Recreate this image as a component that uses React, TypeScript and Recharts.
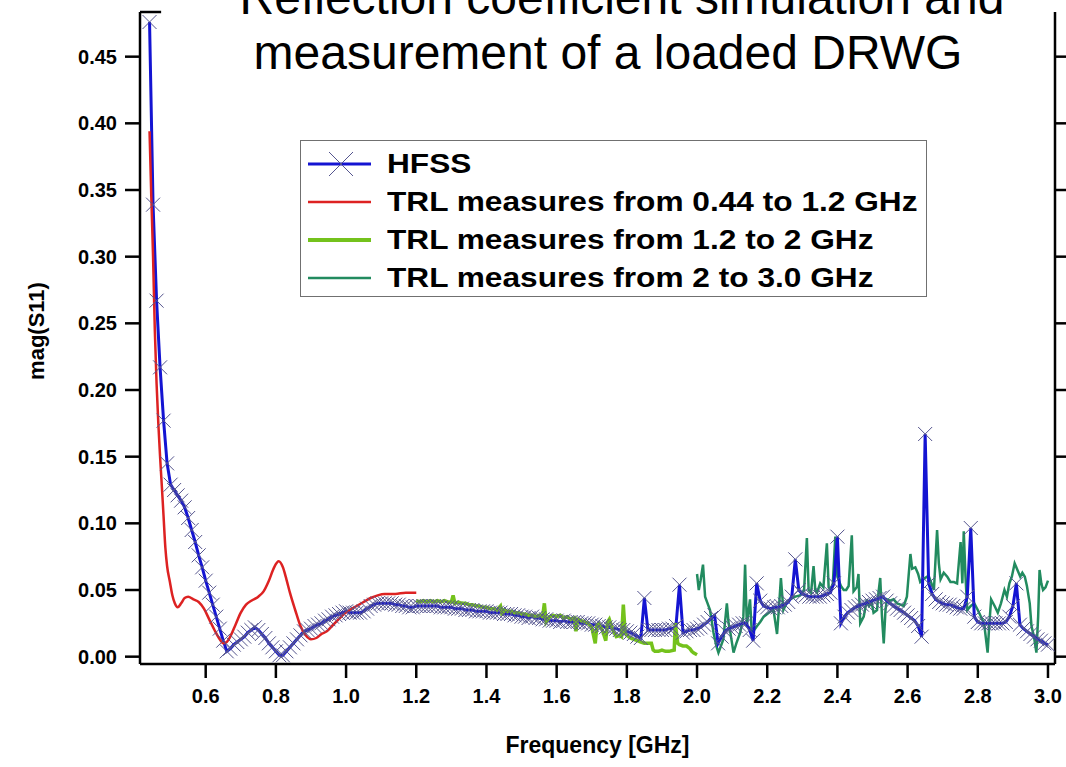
import { LineChart, Line, XAxis, YAxis, Legend, Label, ReferenceLine } from "recharts";

const FONT = '"Liberation Sans", Arial, sans-serif';

const BLUE = "#1414d2";
const MARK = "#55558e";
const RED = "#dd2222";
const LIME = "#74c21c";
const TEAL = "#228b5f";

// HFSS simulation, sampled every 0.01 GHz from 0.44 GHz
const hfssStart = 0.44;
const hfssStep = 0.01;
const hfssValues = [
  0.476, 0.339, 0.267, 0.217, 0.177, 0.145,
  0.129, 0.125, 0.121, 0.117, 0.112, 0.104, 0.095, 0.086, 0.076, 0.067,
  0.057, 0.048, 0.039, 0.030, 0.021, 0.012, 0.004, 0.006, 0.009, 0.011,
  0.013, 0.015, 0.018, 0.020, 0.022, 0.020, 0.017, 0.014, 0.010, 0.007,
  0.004, 0.001, 0.001, 0.004, 0.007, 0.010, 0.013, 0.016, 0.019, 0.020,
  0.021, 0.023, 0.024, 0.025, 0.027, 0.028, 0.030, 0.031, 0.032, 0.033,
  0.034, 0.033, 0.033, 0.033, 0.033, 0.034, 0.036, 0.038, 0.039, 0.040,
  0.040, 0.040, 0.040, 0.040, 0.039, 0.039, 0.038, 0.038, 0.037, 0.037,
  0.038, 0.038, 0.038, 0.038, 0.038, 0.038, 0.038, 0.037, 0.037, 0.037,
  0.037, 0.036, 0.036, 0.036, 0.035, 0.035, 0.035, 0.034, 0.034, 0.034,
  0.034, 0.033, 0.033, 0.033, 0.033, 0.032, 0.032, 0.032, 0.031, 0.031,
  0.030, 0.030, 0.029, 0.030, 0.029, 0.029, 0.028, 0.028, 0.027, 0.027,
  0.027, 0.026, 0.027, 0.026, 0.026, 0.026, 0.026, 0.025, 0.025, 0.025,
  0.024, 0.024, 0.023, 0.023, 0.022, 0.022, 0.021, 0.021, 0.020, 0.020,
  0.019, 0.018, 0.017, 0.015, 0.014, 0.044, 0.020, 0.020, 0.020, 0.020,
  0.020, 0.020, 0.021, 0.021, 0.023, 0.054, 0.018, 0.019, 0.020, 0.020,
  0.021, 0.022, 0.024, 0.026, 0.029, 0.031, 0.010, 0.015, 0.019, 0.021,
  0.022, 0.023, 0.024, 0.025, 0.025, 0.020, 0.012, 0.055, 0.042, 0.038,
  0.037, 0.036, 0.037, 0.037, 0.038, 0.039, 0.041, 0.045, 0.073, 0.050,
  0.047, 0.046, 0.045, 0.045, 0.045, 0.045, 0.046, 0.047, 0.048, 0.055,
  0.090, 0.025, 0.030, 0.033, 0.035, 0.037, 0.038, 0.039, 0.040, 0.041,
  0.042, 0.043, 0.044, 0.045, 0.042, 0.040, 0.038, 0.036, 0.035, 0.033,
  0.031, 0.029, 0.027, 0.023, 0.015, 0.167, 0.055, 0.047, 0.043, 0.041,
  0.040, 0.039, 0.039, 0.038, 0.037, 0.036, 0.036, 0.045, 0.0965, 0.030,
  0.026, 0.025, 0.025, 0.025, 0.025, 0.025, 0.025, 0.025, 0.026, 0.030,
  0.038, 0.055, 0.024, 0.021, 0.019, 0.017, 0.015, 0.013, 0.012, 0.010,
  0.009,
];

// TRL measures 0.44 - 1.2 GHz  [GHz, mag]
const trlLow: [number, number][] = [
  [0.44, 0.394], [0.445, 0.345], [0.45, 0.3], [0.455, 0.245], [0.46, 0.205],
  [0.465, 0.175], [0.47, 0.15], [0.475, 0.128], [0.48, 0.105], [0.485, 0.082],
  [0.49, 0.068], [0.498, 0.056], [0.505, 0.046], [0.512, 0.04], [0.52, 0.037],
  [0.53, 0.04], [0.54, 0.044], [0.55, 0.045], [0.565, 0.043], [0.58, 0.041],
  [0.595, 0.036], [0.61, 0.028], [0.625, 0.02], [0.64, 0.013], [0.65, 0.01],
  [0.66, 0.011], [0.67, 0.015], [0.685, 0.024], [0.7, 0.033], [0.715, 0.039],
  [0.73, 0.042], [0.75, 0.045], [0.765, 0.049], [0.78, 0.057], [0.795, 0.067],
  [0.808, 0.0715], [0.82, 0.067], [0.83, 0.058], [0.84, 0.048], [0.855, 0.035],
  [0.87, 0.023], [0.885, 0.016], [0.9, 0.013], [0.915, 0.014], [0.93, 0.017],
  [0.945, 0.019], [0.96, 0.023], [0.975, 0.027], [0.99, 0.031], [1.01, 0.035],
  [1.03, 0.038], [1.05, 0.041], [1.07, 0.044], [1.09, 0.046], [1.11, 0.047],
  [1.14, 0.047], [1.17, 0.048], [1.2, 0.048],
];

// TRL measures 1.2 - 2 GHz
const trlMid: [number, number][] = [
  [1.2, 0.042], [1.21, 0.041], [1.22, 0.042], [1.23, 0.041], [1.24, 0.042],
  [1.25, 0.041], [1.26, 0.042], [1.27, 0.041], [1.28, 0.042], [1.29, 0.041],
  [1.3, 0.041], [1.305, 0.046], [1.31, 0.04], [1.32, 0.041], [1.33, 0.04],
  [1.34, 0.04], [1.35, 0.039], [1.36, 0.039], [1.37, 0.038], [1.38, 0.038],
  [1.39, 0.037], [1.4, 0.037], [1.41, 0.036], [1.42, 0.036], [1.43, 0.035],
  [1.44, 0.038], [1.445, 0.031], [1.45, 0.035], [1.46, 0.034], [1.47, 0.034],
  [1.48, 0.033], [1.49, 0.033], [1.5, 0.032], [1.51, 0.032], [1.52, 0.031],
  [1.53, 0.031], [1.54, 0.03], [1.55, 0.031], [1.56, 0.03], [1.565, 0.04],
  [1.57, 0.026], [1.58, 0.03], [1.59, 0.031], [1.6, 0.03], [1.61, 0.031],
  [1.62, 0.029], [1.63, 0.03], [1.64, 0.028], [1.65, 0.029], [1.655, 0.019],
  [1.66, 0.028], [1.67, 0.027], [1.68, 0.026], [1.69, 0.025], [1.7, 0.022],
  [1.71, 0.01], [1.715, 0.024], [1.72, 0.025], [1.73, 0.02], [1.74, 0.012],
  [1.745, 0.026], [1.75, 0.028], [1.76, 0.02], [1.77, 0.015], [1.78, 0.016],
  [1.785, 0.015], [1.79, 0.039], [1.795, 0.018], [1.8, 0.016], [1.81, 0.014],
  [1.82, 0.013], [1.83, 0.012], [1.84, 0.011], [1.85, 0.01], [1.86, 0.01],
  [1.87, 0.01], [1.875, 0.005], [1.88, 0.004], [1.89, 0.004], [1.9, 0.005],
  [1.91, 0.004], [1.92, 0.004], [1.935, 0.005], [1.938, 0.025], [1.945, 0.01],
  [1.95, 0.009], [1.96, 0.008], [1.97, 0.008], [1.98, 0.006], [1.985, 0.004],
  [1.99, 0.003], [2.0, 0.0015],
];

// TRL measures 2 - 3 GHz
const trlHigh: [number, number][] = [
  [2.0, 0.062], [2.005, 0.05], [2.01, 0.057], [2.017, 0.069], [2.023, 0.045],
  [2.03, 0.04], [2.037, 0.035], [2.047, 0.018], [2.055, 0.008], [2.061, 0.003],
  [2.068, 0.008], [2.075, 0.013], [2.085, 0.04], [2.09, 0.025], [2.095, 0.018],
  [2.104, 0.003], [2.112, 0.01], [2.123, 0.018], [2.132, 0.03], [2.137, 0.069],
  [2.142, 0.023], [2.147, 0.035], [2.151, 0.043], [2.156, 0.018], [2.163, 0.02],
  [2.171, 0.023], [2.18, 0.026], [2.19, 0.03], [2.2, 0.032], [2.21, 0.034],
  [2.218, 0.035], [2.228, 0.017], [2.233, 0.035], [2.239, 0.059], [2.246, 0.035],
  [2.255, 0.04], [2.265, 0.043], [2.28, 0.045], [2.294, 0.046], [2.305, 0.05],
  [2.313, 0.089], [2.318, 0.05], [2.325, 0.048], [2.332, 0.068], [2.337, 0.05],
  [2.342, 0.048], [2.351, 0.055], [2.36, 0.052], [2.37, 0.085], [2.375, 0.052],
  [2.38, 0.05], [2.387, 0.055], [2.394, 0.09], [2.4, 0.06], [2.41, 0.053],
  [2.418, 0.05], [2.425, 0.05], [2.432, 0.053], [2.441, 0.091], [2.446, 0.049],
  [2.455, 0.052], [2.46, 0.062], [2.465, 0.025], [2.475, 0.03], [2.484, 0.043],
  [2.49, 0.038], [2.498, 0.04], [2.503, 0.033], [2.513, 0.035], [2.517, 0.048],
  [2.522, 0.059], [2.527, 0.03], [2.532, 0.01], [2.537, 0.035], [2.541, 0.043],
  [2.55, 0.042], [2.56, 0.043], [2.57, 0.04], [2.58, 0.039], [2.589, 0.038],
  [2.598, 0.045], [2.608, 0.077], [2.613, 0.066], [2.622, 0.067], [2.63, 0.062],
  [2.636, 0.056], [2.645, 0.058], [2.655, 0.06], [2.661, 0.06], [2.668, 0.055],
  [2.675, 0.05], [2.684, 0.095], [2.689, 0.07], [2.694, 0.058], [2.703, 0.063],
  [2.713, 0.06], [2.722, 0.056], [2.732, 0.056], [2.741, 0.055], [2.751, 0.086],
  [2.756, 0.055], [2.76, 0.094], [2.765, 0.06], [2.77, 0.035], [2.78, 0.038],
  [2.79, 0.04], [2.8, 0.035], [2.809, 0.03], [2.818, 0.025], [2.828, 0.003],
  [2.833, 0.025], [2.838, 0.043], [2.848, 0.038], [2.857, 0.033], [2.866, 0.04],
  [2.876, 0.05], [2.883, 0.045], [2.89, 0.055], [2.897, 0.06], [2.905, 0.07],
  [2.913, 0.065], [2.921, 0.06], [2.927, 0.063], [2.934, 0.06], [2.94, 0.053],
  [2.948, 0.04], [2.953, 0.023], [2.96, 0.015], [2.967, 0.003], [2.972, 0.03],
  [2.976, 0.065], [2.981, 0.055], [2.986, 0.05], [2.993, 0.052], [3.0, 0.057],
];

const xTicks = [0.6, 0.8, 1.0, 1.2, 1.4, 1.6, 1.8, 2.0, 2.2, 2.4, 2.6, 2.8, 3.0];
const yTicks = [0, 0.05, 0.1, 0.15, 0.2, 0.25, 0.3, 0.35, 0.4, 0.45];
const X_DOMAIN: [number, number] = [0.4128, 3.02];
const Y_DOMAIN: [number, number] = [-0.0055, 0.4835];

const legendItems = [
  { name: "HFSS", color: BLUE, width: 3, cross: true },
  { name: "TRL measures from 0.44 to 1.2 GHz", color: RED, width: 2.5, cross: false },
  { name: "TRL measures from 1.2 to 2 GHz", color: LIME, width: 4, cross: false },
  { name: "TRL measures from 2 to 3.0 GHz", color: TEAL, width: 2.5, cross: false },
];

const toPoints = (arr: [number, number][]) => arr.map(([f, v]) => ({ f, v }));

const hfssData = hfssValues.map((v, i) => ({
  f: Math.round((hfssStart + i * hfssStep) * 100) / 100,
  v,
}));

const crossDot = (props: any) => {
  const { cx, cy, index } = props;
  if (cx == null || cy == null) return <g key={`c${index}`} />;
  const s = 7;
  return (
    <path
      key={`c${index}`}
      d={`M${cx - s},${cy - s}L${cx + s},${cy + s}M${cx - s},${cy + s}L${cx + s},${cy - s}`}
      stroke={MARK}
      strokeWidth={1}
      fill="none"
    />
  );
};

const LegendBox = () => (
  <div
    style={{
      width: 627,
      height: 157,
      boxSizing: "border-box",
      border: "1.5px solid #707070",
      background: "#fff",
      position: "relative",
      fontFamily: FONT,
    }}
  >
    {legendItems.map((it, i) => (
      <div
        key={it.name}
        style={{ position: "absolute", left: 0, top: 5 + i * 38, height: 36, width: 627 }}
      >
        <svg width={80} height={36} style={{ position: "absolute", left: 0, top: 0 }}>
          <line x1={7} x2={70} y1={18} y2={18} stroke={it.color} strokeWidth={it.width} />
          {it.cross && (
            <path d="M28,6L52,30M28,30L52,6" stroke={MARK} strokeWidth={1} fill="none" />
          )}
        </svg>
        <span
          style={{
            position: "absolute",
            left: 86,
            top: 0,
            lineHeight: "36px",
            fontSize: 28,
            fontWeight: "bold",
            color: "#000",
            whiteSpace: "nowrap",
            transform: "scaleX(1.13)",
            transformOrigin: "left center",
          }}
        >
          {it.name}
        </span>
      </div>
    ))}
  </div>
);

const tickStyle = { fill: "#000", fontSize: 20, fontWeight: "bold", fontFamily: FONT };
const axisStroke = { stroke: "#000", strokeWidth: 2.5 };

const YTitle = () => (
  <text
    x={36}
    y={331}
    transform="rotate(-90, 36, 331)"
    textAnchor="middle"
    dominantBaseline="central"
    fontFamily={FONT}
    fontSize={22}
    fontWeight="bold"
    fill="#000"
  >
    mag(S11)
  </text>
);

export default function App() {
  return (
    <div style={{ position: "absolute", left: 0, top: 0, width: 1066, height: 767, background: "#fff" }}>
      <LineChart
        width={1066}
        height={767}
        margin={{ top: 12, right: 0, bottom: 0, left: 0 }}
        style={{ fontFamily: FONT }}
      >
        <XAxis
          type="number"
          dataKey="f"
          domain={X_DOMAIN}
          ticks={xTicks}
          interval={0}
          allowDataOverflow
          height={103}
          tickSize={14}
          tickMargin={11}
          tick={tickStyle}
          axisLine={axisStroke}
          tickLine={axisStroke}
          tickFormatter={(v: number) => v.toFixed(1)}
        >
          <Label
            value="Frequency [GHz]"
            position="insideBottom"
            offset={14}
            style={{ fontSize: 23, fontWeight: "bold", fill: "#000", fontFamily: FONT }}
          />
        </XAxis>
        <YAxis
          yAxisId="l"
          type="number"
          domain={Y_DOMAIN}
          ticks={yTicks}
          interval={0}
          allowDataOverflow
          width={140}
          tickSize={15}
          tickMargin={8}
          tick={tickStyle}
          axisLine={axisStroke}
          tickLine={axisStroke}
          tickFormatter={(v: number) => v.toFixed(2)}
        >
          <Label content={() => <YTitle />} />
        </YAxis>
        <YAxis
          yAxisId="r"
          orientation="right"
          type="number"
          domain={Y_DOMAIN}
          ticks={yTicks}
          interval={0}
          allowDataOverflow
          width={11}
          tickSize={11}
          tick={() => <g />}
          axisLine={axisStroke}
          tickLine={axisStroke}
        />
        <ReferenceLine
          yAxisId="l"
          segment={[
            { x: X_DOMAIN[0], y: Y_DOMAIN[1] },
            { x: 0.473, y: Y_DOMAIN[1] },
          ]}
          stroke="#000"
          strokeWidth={2.5}
        />
        <Line
          yAxisId="l"
          data={toPoints(trlHigh)}
          dataKey="v"
          type="linear"
          stroke={TEAL}
          strokeWidth={2.5}
          dot={false}
          activeDot={false}
          isAnimationActive={false}
        />
        <Line
          yAxisId="l"
          data={hfssData}
          dataKey="v"
          type="linear"
          stroke={BLUE}
          strokeWidth={3}
          dot={crossDot}
          activeDot={false}
          isAnimationActive={false}
        />
        <Line
          yAxisId="l"
          data={toPoints(trlLow)}
          dataKey="v"
          type="monotone"
          stroke={RED}
          strokeWidth={2.5}
          dot={false}
          activeDot={false}
          isAnimationActive={false}
        />
        <Line
          yAxisId="l"
          data={toPoints(trlMid)}
          dataKey="v"
          type="linear"
          stroke={LIME}
          strokeWidth={3.5}
          dot={false}
          activeDot={false}
          isAnimationActive={false}
        />
        <Legend
          verticalAlign="middle"
          layout="horizontal"
          wrapperStyle={{ left: 300, top: 140, width: 627, height: 157 }}
          content={() => <LegendBox />}
        />
      </LineChart>
      <svg
        width={1066}
        height={767}
        style={{ position: "absolute", left: 0, top: 0, pointerEvents: "none" }}
      >
        <text x={622} y={14} textAnchor="middle" fontFamily={FONT} fontSize={48} fill="#000">
          Reflection coefficient simulation and
        </text>
        <text x={608} y={69} textAnchor="middle" fontFamily={FONT} fontSize={48} fill="#000">
          measurement of a loaded DRWG
        </text>
      </svg>
    </div>
  );
}
